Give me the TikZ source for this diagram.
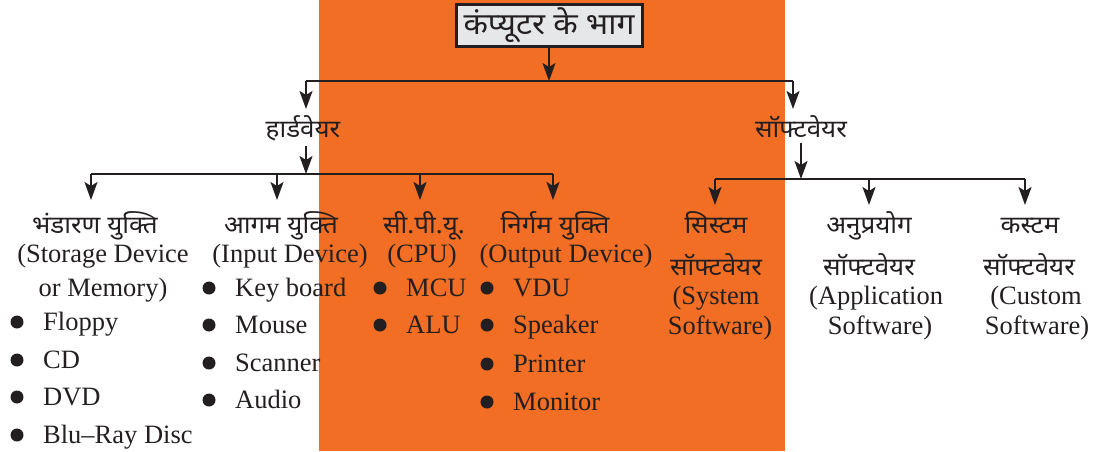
\documentclass[tikz,border=0pt]{standalone}
\usepackage{fontspec}
\setmainfont{Liberation Serif}
\newfontfamily\dev[Script=Devanagari,FakeStretch=1.06]{Noto Sans}
\usetikzlibrary{arrows.meta}
\definecolor{bgorange}{RGB}{241,110,36}
\definecolor{titlegray}{RGB}{230,231,232}
\definecolor{ink}{RGB}{35,31,32}
\newcommand\bitem[4]{\node[dot] (#1d) at (#2,#3) {}; \node[lat,anchor=base west] (#1) at (#2+26,#3+8) {#4};}
\begin{document}
\begin{tikzpicture}[x=1pt,y=-1pt,
 lat/.style={font=\fontsize{26.5}{30}\selectfont, inner sep=0pt, anchor=base, text=ink},
 hin/.style={font=\dev\fontsize{24.5}{28}\selectfont, inner sep=0pt, anchor=base, text=ink},
 arr/.style={-{Stealth[length=18pt,width=13pt,inset=4pt]}, line width=1.9pt, draw=ink},
 ln/.style={line width=1.9pt, draw=ink},
 dot/.style={circle, fill=ink, minimum size=13pt, inner sep=0pt}]
\useasboundingbox (0,0) rectangle (1094,451);
\fill[bgorange] (319,0) rectangle (785,451);
% title
\node[draw=ink, line width=3pt, fill=titlegray, minimum width=186pt, minimum height=42pt, inner sep=0pt, text=ink, font=\dev\bfseries\fontsize{30}{34}\selectfont] (title) at (549,25) {कंप्यूटर के भाग};
\coordinate (j0) at (549,81);
\coordinate (jl) at (306,81);
\coordinate (jr) at (793,81);
\coordinate (hwtip) at (306,109);
\coordinate (swtip) at (793,109);
\draw[arr] (title.south) -- (j0);
\draw[ln] (jl) -- (jr);
\draw[arr] (jl) -- (hwtip);
\draw[arr] (jr) -- (swtip);
% level 2
\node[hin] (hw) at (303,137) {हार्डवेयर};
\node[hin] (sw) at (801,137) {सॉफ्टवेयर};
% hardware branches
\coordinate (hwj) at (306,174);
\coordinate (hb1) at (91,174);
\coordinate (hb2) at (277,174);
\coordinate (hb3) at (420,174);
\coordinate (hb4) at (553,174);
\coordinate (ht1) at (91,200);
\coordinate (ht2) at (277,200);
\coordinate (ht3) at (420,200);
\coordinate (ht4) at (553,200);
\draw[arr] (hw.south -| hwj) ++(0,5) -- (hwj);
\draw[ln] (hb1) -- (hb4);
\draw[arr] (hb1) -- (ht1);
\draw[arr] (hb2) -- (ht2);
\draw[arr] (hb3) -- (ht3);
\draw[arr] (hb4) -- (ht4);
% software branches
\coordinate (swj) at (801,179);
\coordinate (sb1) at (715,179);
\coordinate (sb2) at (869,179);
\coordinate (sb3) at (1025,179);
\coordinate (st1) at (715,205);
\coordinate (st2) at (869,205);
\coordinate (st3) at (1025,205);
\draw[arr] (sw.south -| swj) ++(0,5) -- (swj);
\draw[ln] (sb1) -- (sb3);
\draw[arr] (sb1) -- (st1);
\draw[arr] (sb2) -- (st2);
\draw[arr] (sb3) -- (st3);
% storage
\node[hin] (sto) at (95,233) {भंडारण युक्ति};
\node[lat] (stoa) at (103,262) {(Storage Device};
\node[lat] (stob) at (103,296) {or Memory)};
\bitem{fl}{17}{322}{Floppy}
\bitem{cd}{17}{360}{CD}
\bitem{dvd}{17}{397}{DVD}
\bitem{blu}{17}{435}{Blu--Ray Disc}
% input
\node[hin] (inp) at (281,233) {आगम युक्ति};
\node[lat] (inpa) at (290,262) {(Input Device)};
\bitem{kb}{209}{288}{Key board}
\bitem{ms}{209}{325}{Mouse}
\bitem{sc}{209}{363}{Scanner}
\bitem{au}{209}{400}{Audio}
% cpu
\node[hin] (cpu) at (424,233) {सी.पी.यू.};
\node[lat] (cpua) at (422,262) {(CPU)};
\bitem{mcu}{380}{288}{MCU}
\bitem{alu}{380}{325}{ALU}
% output
\node[hin] (out) at (555,233) {निर्गम युक्ति};
\node[lat] (outa) at (566,262) {(Output Device)};
\bitem{vdu}{487}{288}{VDU}
\bitem{spk}{487}{325}{Speaker}
\bitem{prn}{487}{364}{Printer}
\bitem{mon}{487}{402}{Monitor}
% software categories
\node[hin] (sys) at (716,233) {सिस्टम};
\node[hin] (sysb) at (716,275) {सॉफ्टवेयर};
\node[lat] (sysc) at (716,304) {(System};
\node[lat] (sysd) at (720,334) {Software)};
\node[hin] (app) at (869,233) {अनुप्रयोग};
\node[hin] (appb) at (869,275) {सॉफ्टवेयर};
\node[lat] (appc) at (876,304) {(Application};
\node[lat] (appd) at (880,334) {Software)};
\node[hin] (cus) at (1030,233) {कस्टम};
\node[hin] (cusb) at (1029,275) {सॉफ्टवेयर};
\node[lat] (cusc) at (1036,304) {(Custom};
\node[lat] (cusd) at (1037,334) {Software)};
\end{tikzpicture}
\end{document}
